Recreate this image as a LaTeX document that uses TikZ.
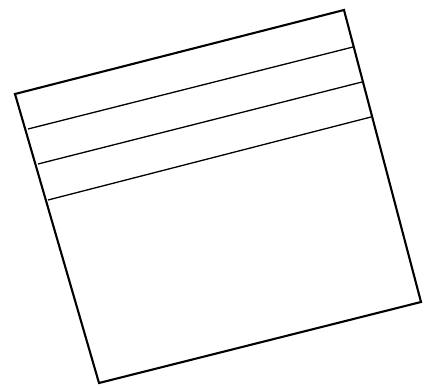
\documentclass[tikz,border=0pt]{standalone}
\begin{document}
\begin{tikzpicture}[x=1pt,y=-1pt,
  frame/.style={draw=black,line width=2.1pt,line join=miter},
  rule/.style={draw=black,line width=1.3pt}]
\useasboundingbox (0,0) rectangle (432,388);
\coordinate (tl) at (15,94);
\coordinate (tr) at (344,10);
\coordinate (br) at (421,302);
\coordinate (bl) at (99,383);
\coordinate (l1) at (28,129);
\coordinate (r1) at (353,47);
\coordinate (l2) at (38,164);
\coordinate (r2) at (362,82);
\coordinate (l3) at (48,200);
\coordinate (r3) at (371,117);
\draw[frame] (tl) -- (tr) -- (br) -- (bl) -- cycle;
\draw[rule] (l1) -- (r1);
\draw[rule] (l2) -- (r2);
\draw[rule] (l3) -- (r3);
\end{tikzpicture}
\end{document}
